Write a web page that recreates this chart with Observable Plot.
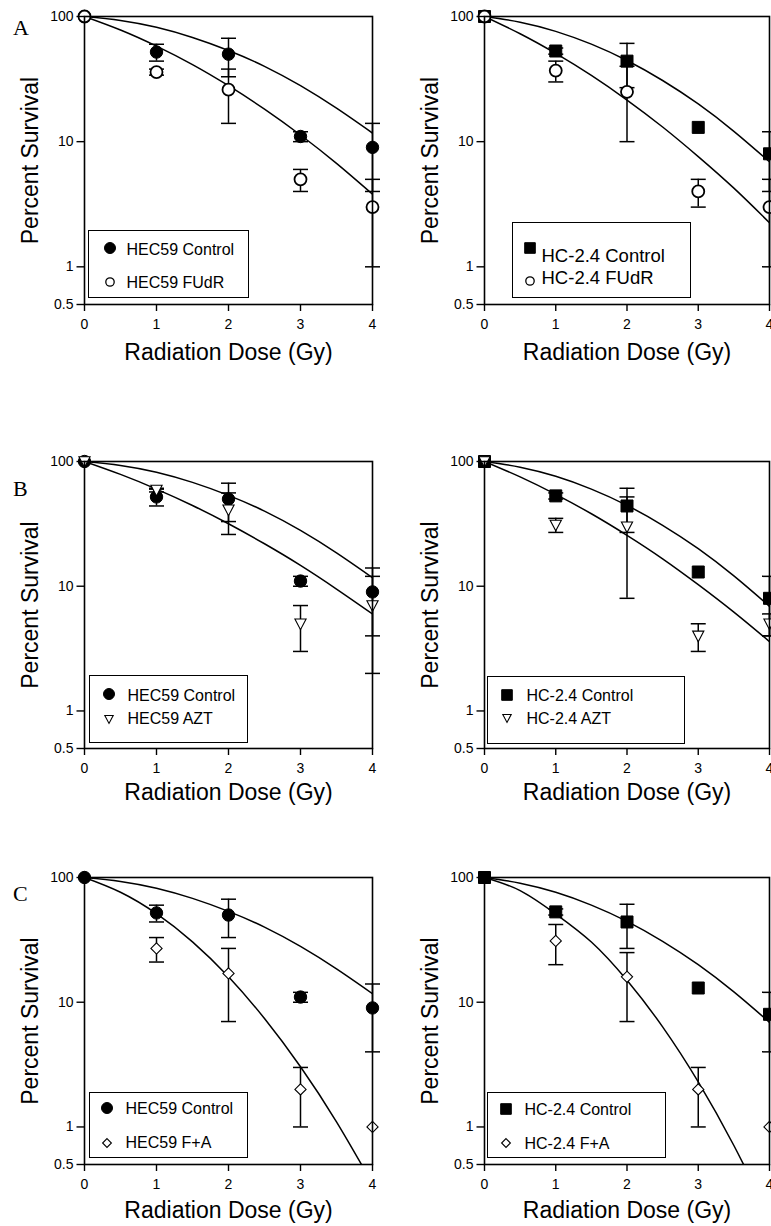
<!DOCTYPE html>
<html><head><meta charset="utf-8">
<script src="https://cdn.jsdelivr.net/npm/d3@7"></script>
<script src="https://cdn.jsdelivr.net/npm/@observablehq/plot@0.6"></script>
<style>
html,body{margin:0;padding:0;background:#fff;overflow:hidden;}
#root{position:relative;width:771px;height:1226px;overflow:hidden;font-family:"Liberation Sans",Arial,sans-serif;color:#000;}
.panel{position:absolute;}
.legend{position:absolute;border:1.5px solid #000;box-sizing:border-box;background:#fff;}
.lrow{position:absolute;white-space:nowrap;line-height:1;}
.lsym{position:absolute;overflow:visible;}
.letter{position:absolute;font-family:"Liberation Serif","Times New Roman",serif;font-size:22px;line-height:1;}
</style></head><body><div id="root"></div>
<script>
// ---------------- data ----------------
const doses = [0, 1, 2, 3, 4];
const fitDoses = [0, 0.5, 1, 1.5, 2, 2.5, 3, 3.5, 4];
const xTicks = [0, 1, 2, 3, 4];
const yTicks = [0.5, 1, 10, 100];
const yTickLabels = ["0.5", "1", "10", "100"];
const yLabel = "Percent Survival";
const xLabel = "Radiation Dose (Gy)";
const panelLetters = ["A", "B", "C"];

const hec59Control     = [100, 52, 50, 11, 9];
const hec59ControlErr  = [0, 8, 17, 1, 5];
const hec59ControlFit  = [100, 93, 82, 68, 53.5, 40, 28, 18.5, 11.7];

const hc24Control      = [100, 53, 44, 13, 8];
const hc24ControlErr   = [0, 3, 17, 0, 4];
const hc24ControlFit   = [100, 90.1, 76.1, 60.1, 44.5, 30.8, 20.0, 12.1, 6.9];

const hec59FUdR        = [100, 36, 26, 5, 3];
const hec59FUdRErr     = [0, 2, 12, 1, 2];
const hec59FUdRFit     = [100, 78, 58, 41.3, 28, 18.2, 11.3, 6.7, 3.8];

const hc24FUdR         = [100, 37, 25, 4, 3];
const hc24FUdRErr      = [0, 7, 15, 1, 2];
const hc24FUdRFit      = [100, 72.8, 50.7, 33.8, 21.5, 13.1, 7.6, 4.25, 2.25];

const hec59AZT         = [100, 59, 41, 5, 7];
const hec59AZTErr      = [0, 2, 15, 2, 5];
const hec59AZTFit      = [100, 78.8, 60.1, 44.4, 31.7, 21.9, 14.7, 9.5, 6.0];

const hc24AZT          = [100, 31, 30, 4, 5];
const hc24AZTErr       = [0, 4, 22, 1, 1];
const hc24AZTFit       = [100, 75.2, 54.5, 38.1, 25.6, 16.6, 10.3, 6.2, 3.6];

const hec59FA          = [100, 27, 17, 2, 1];
const hec59FAErr       = [0, 6, 10, 1, 0];
const hec59FAFit       = [100, 76.2, 51.3, 30.5, 16, 7.4, 3.04, 1.1, 0.35];

const hc24FA           = [100, 31, 16, 2, 1];
const hc24FAErr        = [0, 11, 9, 1, 0];
const hc24FAFit        = [100, 78.5, 51, 30.4, 15, 6.35, 2.3, 0.71, 0.19];

// ---------------- symbols ----------------
function sym(draw) { return {draw(ctx, size) { const r = Math.sqrt(size / Math.PI); draw(ctx, r); }}; }
const circleSym = sym((c, r) => { c.moveTo(r, 0); c.arc(0, 0, r, 0, 2 * Math.PI); c.closePath(); });
const squareSym = sym((c, r) => { c.moveTo(-r, -r); c.lineTo(r, -r); c.lineTo(r, r); c.lineTo(-r, r); c.closePath(); });
const triDownSym = sym((c, r) => { c.moveTo(-r, -0.85 * r); c.lineTo(r, -0.85 * r); c.lineTo(0, 1.05 * r); c.closePath(); });
const diamondSym = sym((c, r) => { c.moveTo(0, -r); c.lineTo(r, 0); c.lineTo(0, r); c.lineTo(-r, 0); c.closePath(); });
const capSym = sym((c, r) => { c.moveTo(-r, 0); c.lineTo(r, 0); });

const styles = {
  filledCircle: {symbol: circleSym, r: 6.2, fill: "black", stroke: "black", strokeWidth: 1, lr: 5.5},
  openCircle:   {symbol: circleSym, r: 6, fill: "white", stroke: "black", strokeWidth: 1.8, lr: 4.2},
  filledSquare: {symbol: squareSym, r: 6, fill: "black", stroke: "black", strokeWidth: 1, lr: 5.3},
  openTriangle: {symbol: triDownSym, r: 5.6, fill: "white", stroke: "black", strokeWidth: 1.1, lr: 4.2},
  openDiamond:  {symbol: diamondSym, r: 5.6, fill: "white", stroke: "black", strokeWidth: 1.1, lr: 4.4}
};

// ---------------- layout ----------------
const rowsLayout = [
  {top: 0, marginTop: 16, plotH: 288, letterTop: 16.6, xLabelDy: 48},
  {top: 440, marginTop: 21, plotH: 287, letterTop: 478.3, xLabelDy: 44},
  {top: 840, marginTop: 37, plotH: 287, letterTop: 883.3, xLabelDy: 46}
];
const colsLayout = [
  {left: 0, width: 390, marginLeft: 84, marginRight: 18},
  {left: 390, width: 381, marginLeft: 94, marginRight: 2}
];
const marginBottom = 70;

const panels = [
  {row: 0, col: 0, treatmentOnTop: true,
   series: [
     {name: "HEC59 Control", values: hec59Control, err: hec59ControlErr, fit: hec59ControlFit, style: "filledCircle"},
     {name: "HEC59 FUdR", values: hec59FUdR, err: hec59FUdRErr, fit: hec59FUdRFit, style: "openCircle"}],
   legend: {box: [88, 230, 249, 298], fs: 16, items: [[110, 248, 127, 250], [110, 282, 127, 283]]}},
  {row: 0, col: 1, treatmentOnTop: true,
   series: [
     {name: "HC-2.4 Control", values: hc24Control, err: hc24ControlErr, fit: hc24ControlFit, style: "filledSquare"},
     {name: "HC-2.4 FUdR", values: hc24FUdR, err: hc24FUdRErr, fit: hc24FUdRFit, style: "openCircle"}],
   legend: {box: [512, 222, 691, 298], fs: 18.5, items: [[530, 248, 542, 257], [530, 281, 542, 279]]}},
  {row: 1, col: 0, treatmentOnTop: true,
   series: [
     {name: "HEC59 Control", values: hec59Control, err: hec59ControlErr, fit: hec59ControlFit, style: "filledCircle"},
     {name: "HEC59 AZT", values: hec59AZT, err: hec59AZTErr, fit: hec59AZTFit, style: "openTriangle"}],
   legend: {box: [89, 675, 248, 743], fs: 16, items: [[109, 694, 128, 696], [109, 719, 128, 719]]}},
  {row: 1, col: 1, treatmentOnTop: true,
   series: [
     {name: "HC-2.4 Control", values: hc24Control, err: hc24ControlErr, fit: hc24ControlFit, style: "filledSquare"},
     {name: "HC-2.4 AZT", values: hc24AZT, err: hc24AZTErr, fit: hc24AZTFit, style: "openTriangle"}],
   legend: {box: [487, 676, 685, 744], fs: 16, items: [[507, 695, 527, 696], [507, 718, 527, 719]]}},
  {row: 2, col: 0, treatmentOnTop: false,
   series: [
     {name: "HEC59 Control", values: hec59Control, err: hec59ControlErr, fit: hec59ControlFit, style: "filledCircle"},
     {name: "HEC59 F+A", values: hec59FA, err: hec59FAErr, fit: hec59FAFit, style: "openDiamond"}],
   legend: {box: [89, 1092, 248, 1158], fs: 16, items: [[107, 1108, 126, 1109], [107, 1143, 126, 1143]]}},
  {row: 2, col: 1, treatmentOnTop: false,
   series: [
     {name: "HC-2.4 Control", values: hc24Control, err: hc24ControlErr, fit: hc24ControlFit, style: "filledSquare"},
     {name: "HC-2.4 F+A", values: hc24FA, err: hc24FAErr, fit: hc24FAFit, style: "openDiamond"}],
   legend: {box: [487, 1092, 666, 1158], fs: 16, items: [[506, 1109, 525, 1110], [506, 1143, 525, 1144]]}}
];

const root = document.getElementById("root");
const yTickSym = sym((c, r) => { c.moveTo(-2 * r, 0); c.lineTo(0, 0); });

function buildPanel(p) {
  const R = rowsLayout[p.row], C = colsLayout[p.col];
  const height = R.marginTop + R.plotH + marginBottom;
  const marks = [];
  // fitted curves
  for (const s of p.series) {
    marks.push(Plot.line(fitDoses.map((d, i) => ({dose: d, value: s.fit[i]})),
      {x: "dose", y: "value", curve: "natural", stroke: "black", strokeWidth: 1.5, clip: true}));
  }
  const order = p.treatmentOnTop ? p.series : [p.series[1], p.series[0]];
  // error bars
  for (const s of order) {
    const data = doses.map((d, i) => ({dose: d, value: s.values[i], err: s.err[i]})).filter(d => d.err > 0);
    marks.push(Plot.ruleX(data, {x: "dose", y1: d => d.value - d.err, y2: d => d.value + d.err, stroke: "black", strokeWidth: 1.5}));
    marks.push(Plot.dot(data, {x: "dose", y: d => d.value + d.err, symbol: capSym, r: 7.5, stroke: "black", strokeWidth: 1.5, fill: "none"}));
    marks.push(Plot.dot(data, {x: "dose", y: d => d.value - d.err, symbol: capSym, r: 7.5, stroke: "black", strokeWidth: 1.5, fill: "none"}));
  }
  // points
  for (const s of order) {
    const st = styles[s.style];
    const data = doses.map((d, i) => ({dose: d, value: s.values[i]}));
    marks.push(Plot.dot(data, {x: "dose", y: "value", symbol: st.symbol, r: st.r, fill: st.fill, stroke: st.stroke, strokeWidth: st.strokeWidth}));
  }
  marks.push(Plot.frame({stroke: "black", strokeWidth: 1.6}));
  marks.push(Plot.axisX({ticks: xTicks, tickSize: 7, tickPadding: 8, fontSize: 14, label: null, strokeWidth: 1.4, tickFormat: d => String(d)}));
  // y ticks and tick labels (drawn through the y scale)
  marks.push(Plot.dot(yTicks, {y: d => d, frameAnchor: "left", symbol: yTickSym, r: 4, stroke: "black", strokeWidth: 1.4, fill: "none"}));
  marks.push(Plot.text(yTicks, {y: d => d, text: (d, i) => yTickLabels[i], frameAnchor: "left", dx: -11, textAnchor: "end", lineAnchor: "middle", fontSize: 14, fill: "black"}));
  marks.push(Plot.text([yLabel], {text: d => d, frameAnchor: "left", dx: -54, rotate: -90, textAnchor: "middle", lineAnchor: "middle", fontSize: 23, fill: "black"}));
  marks.push(Plot.text([xLabel], {text: d => d, frameAnchor: "bottom", dy: R.xLabelDy, textAnchor: "middle", lineAnchor: "middle", fontSize: 23, fill: "black"}));

  const chart = Plot.plot({
    width: C.width, height,
    marginLeft: C.marginLeft, marginRight: C.marginRight, marginTop: R.marginTop, marginBottom,
    x: {domain: [0, 4]},
    y: {type: "log", domain: [0.5, 100], axis: null},
    style: {fontFamily: '"Liberation Sans", Arial, sans-serif', fontSize: "14px", color: "black", background: "transparent", overflow: "visible"},
    marks
  });
  chart.classList.add("panel");
  chart.style.left = C.left + "px";
  chart.style.top = R.top + "px";
  root.appendChild(chart);

  // legend
  const L = p.legend;
  const box = document.createElement("div");
  box.className = "legend";
  box.style.left = L.box[0] + "px"; box.style.top = L.box[1] + "px";
  box.style.width = (L.box[2] - L.box[0]) + "px"; box.style.height = (L.box[3] - L.box[1]) + "px";
  p.series.forEach((s, i) => {
    const [mx, my, tx, ty] = L.items[i];
    const st = styles[s.style];
    const svg = d3.create("svg").attr("class", "lsym").attr("width", 20).attr("height", 20)
      .style("left", (mx - L.box[0] - 10 - 1.5) + "px").style("top", (my - L.box[1] - 10 - 1.5) + "px");
    svg.append("path").attr("transform", "translate(10,10)")
      .attr("d", d3.symbol(st.symbol, st.lr * st.lr * Math.PI)())
      .attr("fill", st.fill).attr("stroke", st.stroke).attr("stroke-width", Math.min(st.strokeWidth, 1.3));
    box.appendChild(svg.node());
    const t = document.createElement("div");
    t.className = "lrow";
    t.textContent = s.name;
    t.style.fontSize = L.fs + "px";
    t.style.left = (tx - L.box[0] - 1.5) + "px";
    t.style.top = (ty - L.box[1] - 1.5 - L.fs / 2) + "px";
    box.appendChild(t);
  });
  root.appendChild(box);
}

panels.forEach(buildPanel);

rowsLayout.forEach((R, i) => {
  const l = document.createElement("div");
  l.className = "letter";
  l.textContent = panelLetters[i];
  l.style.left = "13px";
  l.style.top = R.letterTop + "px";
  root.appendChild(l);
});
</script>
</body></html>
